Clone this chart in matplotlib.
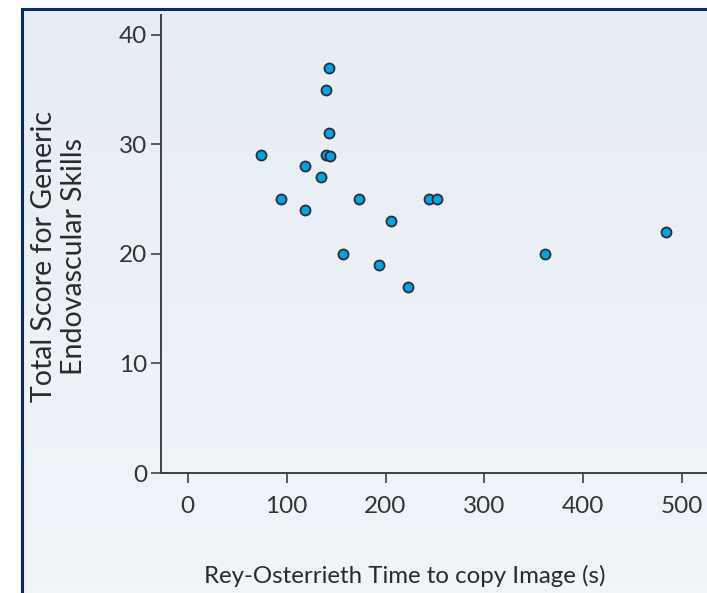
import matplotlib
matplotlib.use("Agg")
import matplotlib.pyplot as plt
import numpy as np

# Rey-Osterrieth copy time (s) vs generic endovascular skills score
copy_time = [143, 140, 143, 74, 140, 144, 119, 135, 94, 119, 173, 244, 252,
             206, 157, 193, 223, 361, 484]
skill_score = [37, 35, 31, 29, 29, 28.9, 28, 27, 25, 24, 25, 25, 25,
               23, 20, 19, 17, 20, 22]

x_ticks = [0, 100, 200, 300, 400, 500]
y_ticks = [0, 10, 20, 30, 40]

W, H = 707, 593
plt.rcParams['font.family'] = ['Lato', 'DejaVu Sans']
fig = plt.figure(figsize=(W / 100, H / 100), dpi=100, facecolor='white')

# light blue panel with a navy frame on top/left
bg = fig.add_axes([21 / W, 0, 1 - 21 / W, 1 - 9 / H], zorder=-5)
grad = np.linspace(0, 1, 64).reshape(-1, 1)
cmap = matplotlib.colors.LinearSegmentedColormap.from_list(
    'panel', ['#e7edf5', '#f1f5fa'])
bg.imshow(grad, aspect='auto', cmap=cmap, extent=[0, 1, 0, 1], origin='upper')
bg.set_xlim(0, 1)
bg.set_ylim(0, 1)
bg.axis('off')
fig.add_artist(plt.Line2D([21.5 / W, 1], [1 - 8.5 / H, 1 - 8.5 / H], color='#0b2a6a',
                          lw=2.2, transform=fig.transFigure))
fig.add_artist(plt.Line2D([21.5 / W, 21.5 / W], [0, 1 - 8.5 / H], color='#0b2a6a',
                          lw=2.2, transform=fig.transFigure))

ax = fig.add_axes([161 / W, 120 / H, (W - 161) / W, (473 - 15) / H])
ax.patch.set_alpha(0)
ax.scatter(copy_time, skill_score, s=52, c='#05a2e6', edgecolors='#2e2e2e',
           linewidths=1.3, zorder=3, clip_on=False)

ax.set_xlim(-27, 525)
ax.set_ylim(0, 41.8)
ax.set_xticks(x_ticks)
ax.set_yticks(y_ticks)
for s in ['top', 'right']:
    ax.spines[s].set_visible(False)
for s in ['left', 'bottom']:
    ax.spines[s].set_color('#404040')
    ax.spines[s].set_linewidth(1.4)
ax.tick_params(axis='both', direction='out', length=7, width=1.2, color='#404040',
               labelsize=17.5, labelcolor='#333333')
ax.tick_params(axis='x', pad=9.5)
ax.tick_params(axis='y', pad=3)

fig.text(59 / W, 1 - 257 / H, 'Total Score for Generic\nEndovascular Skills',
         rotation=90, ha='center', va='center', multialignment='center',
         fontsize=20.5, color='#2a2a2a', linespacing=1.15)
fig.text(405 / W, 1 - 576 / H, 'Rey-Osterrieth Time to copy Image (s)',
         ha='center', va='center', fontsize=17.3, color='#2a2a2a')

fig.savefig('out.png', dpi=100, facecolor='white')
